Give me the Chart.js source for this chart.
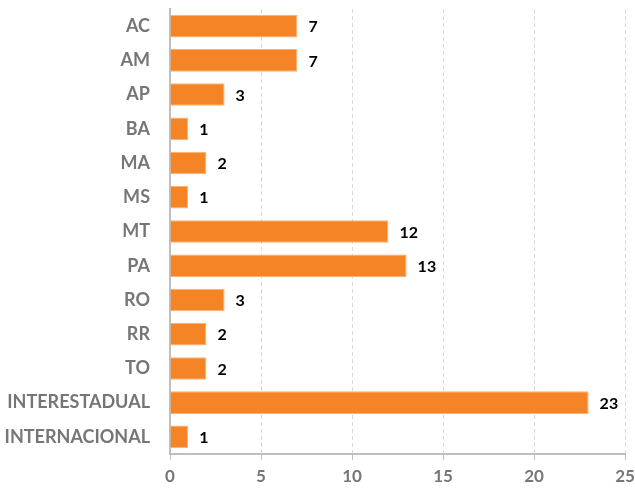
<!DOCTYPE html>
<html>
<head>
<meta charset="utf-8">
<script src="https://cdn.jsdelivr.net/npm/chart.js@4/dist/chart.umd.min.js"></script>
<style>
  html, body { margin: 0; padding: 0; background: #fff; }
  #wrap { width: 635px; height: 488px; }
</style>
</head>
<body>
<div id="wrap"><canvas id="chart"></canvas></div>
<script>
const categories = ['AC', 'AM', 'AP', 'BA', 'MA', 'MS', 'MT', 'PA', 'RO', 'RR', 'TO', 'INTERESTADUAL', 'INTERNACIONAL'];
const values = [7, 7, 3, 1, 2, 1, 12, 13, 3, 2, 2, 23, 1];
const xTicks = [0, 5, 10, 15, 20, 25];

const FONT = "Lato, 'Open Sans', sans-serif";

// draws the value next to each bar end
const valueLabels = {
  id: 'valueLabels',
  afterDatasetsDraw(chart) {
    const ctx = chart.ctx;
    const meta = chart.getDatasetMeta(0);
    ctx.save();
    ctx.font = 'bold 16px ' + FONT;
    ctx.fillStyle = '#000';
    ctx.textBaseline = 'middle';
    ctx.textAlign = 'left';
    meta.data.forEach((bar, i) => {
      ctx.fillText(String(values[i]), bar.x + 11, bar.y + 1);
    });
    ctx.restore();
  }
};

new Chart(document.getElementById('chart').getContext('2d'), {
  type: 'bar',
  data: {
    labels: categories,
    datasets: [{
      data: values,
      backgroundColor: '#F58426',
      borderColor: '#FAB07A',
      borderWidth: 1,
      barPercentage: 0.66,
      categoryPercentage: 1
    }]
  },
  options: {
    indexAxis: 'y',
    responsive: true,
    maintainAspectRatio: false,
    animation: false,
    layout: {
      padding: {top: 9, right: 10, left: 0, bottom: 0}
    },
    scales: {
      x: {
        min: 0,
        max: 25,
        afterBuildTicks: scale => {
          scale.ticks = xTicks.map(v => ({value: v}));
        },
        afterFit: scale => {
          scale.height = 34;
          scale.paddingLeft = 0;
          scale.paddingRight = 0;
        },
        grid: {
          color: '#d9d9d9',
          tickLength: 6,
          tickColor: '#bfbfbf',
          tickBorderDash: [0, 0]
        },
        border: {
          color: '#bfbfbf',
          width: 2,
          dash: [4, 3]
        },
        ticks: {
          color: '#767676',
          padding: 6,
          font: {family: FONT, size: 17, weight: 'bold'}
        }
      },
      y: {
        afterFit: scale => {
          scale.width = 170;
          scale.paddingTop = 0;
          scale.paddingBottom = 0;
        },
        grid: {display: false},
        border: {
          color: '#bfbfbf',
          width: 2
        },
        ticks: {
          color: '#767676',
          padding: 12,
          font: {family: FONT, size: 18, weight: 'bold'}
        }
      }
    },
    plugins: {
      legend: {display: false},
      tooltip: {enabled: false}
    }
  },
  plugins: [valueLabels]
});
</script>
</body>
</html>
